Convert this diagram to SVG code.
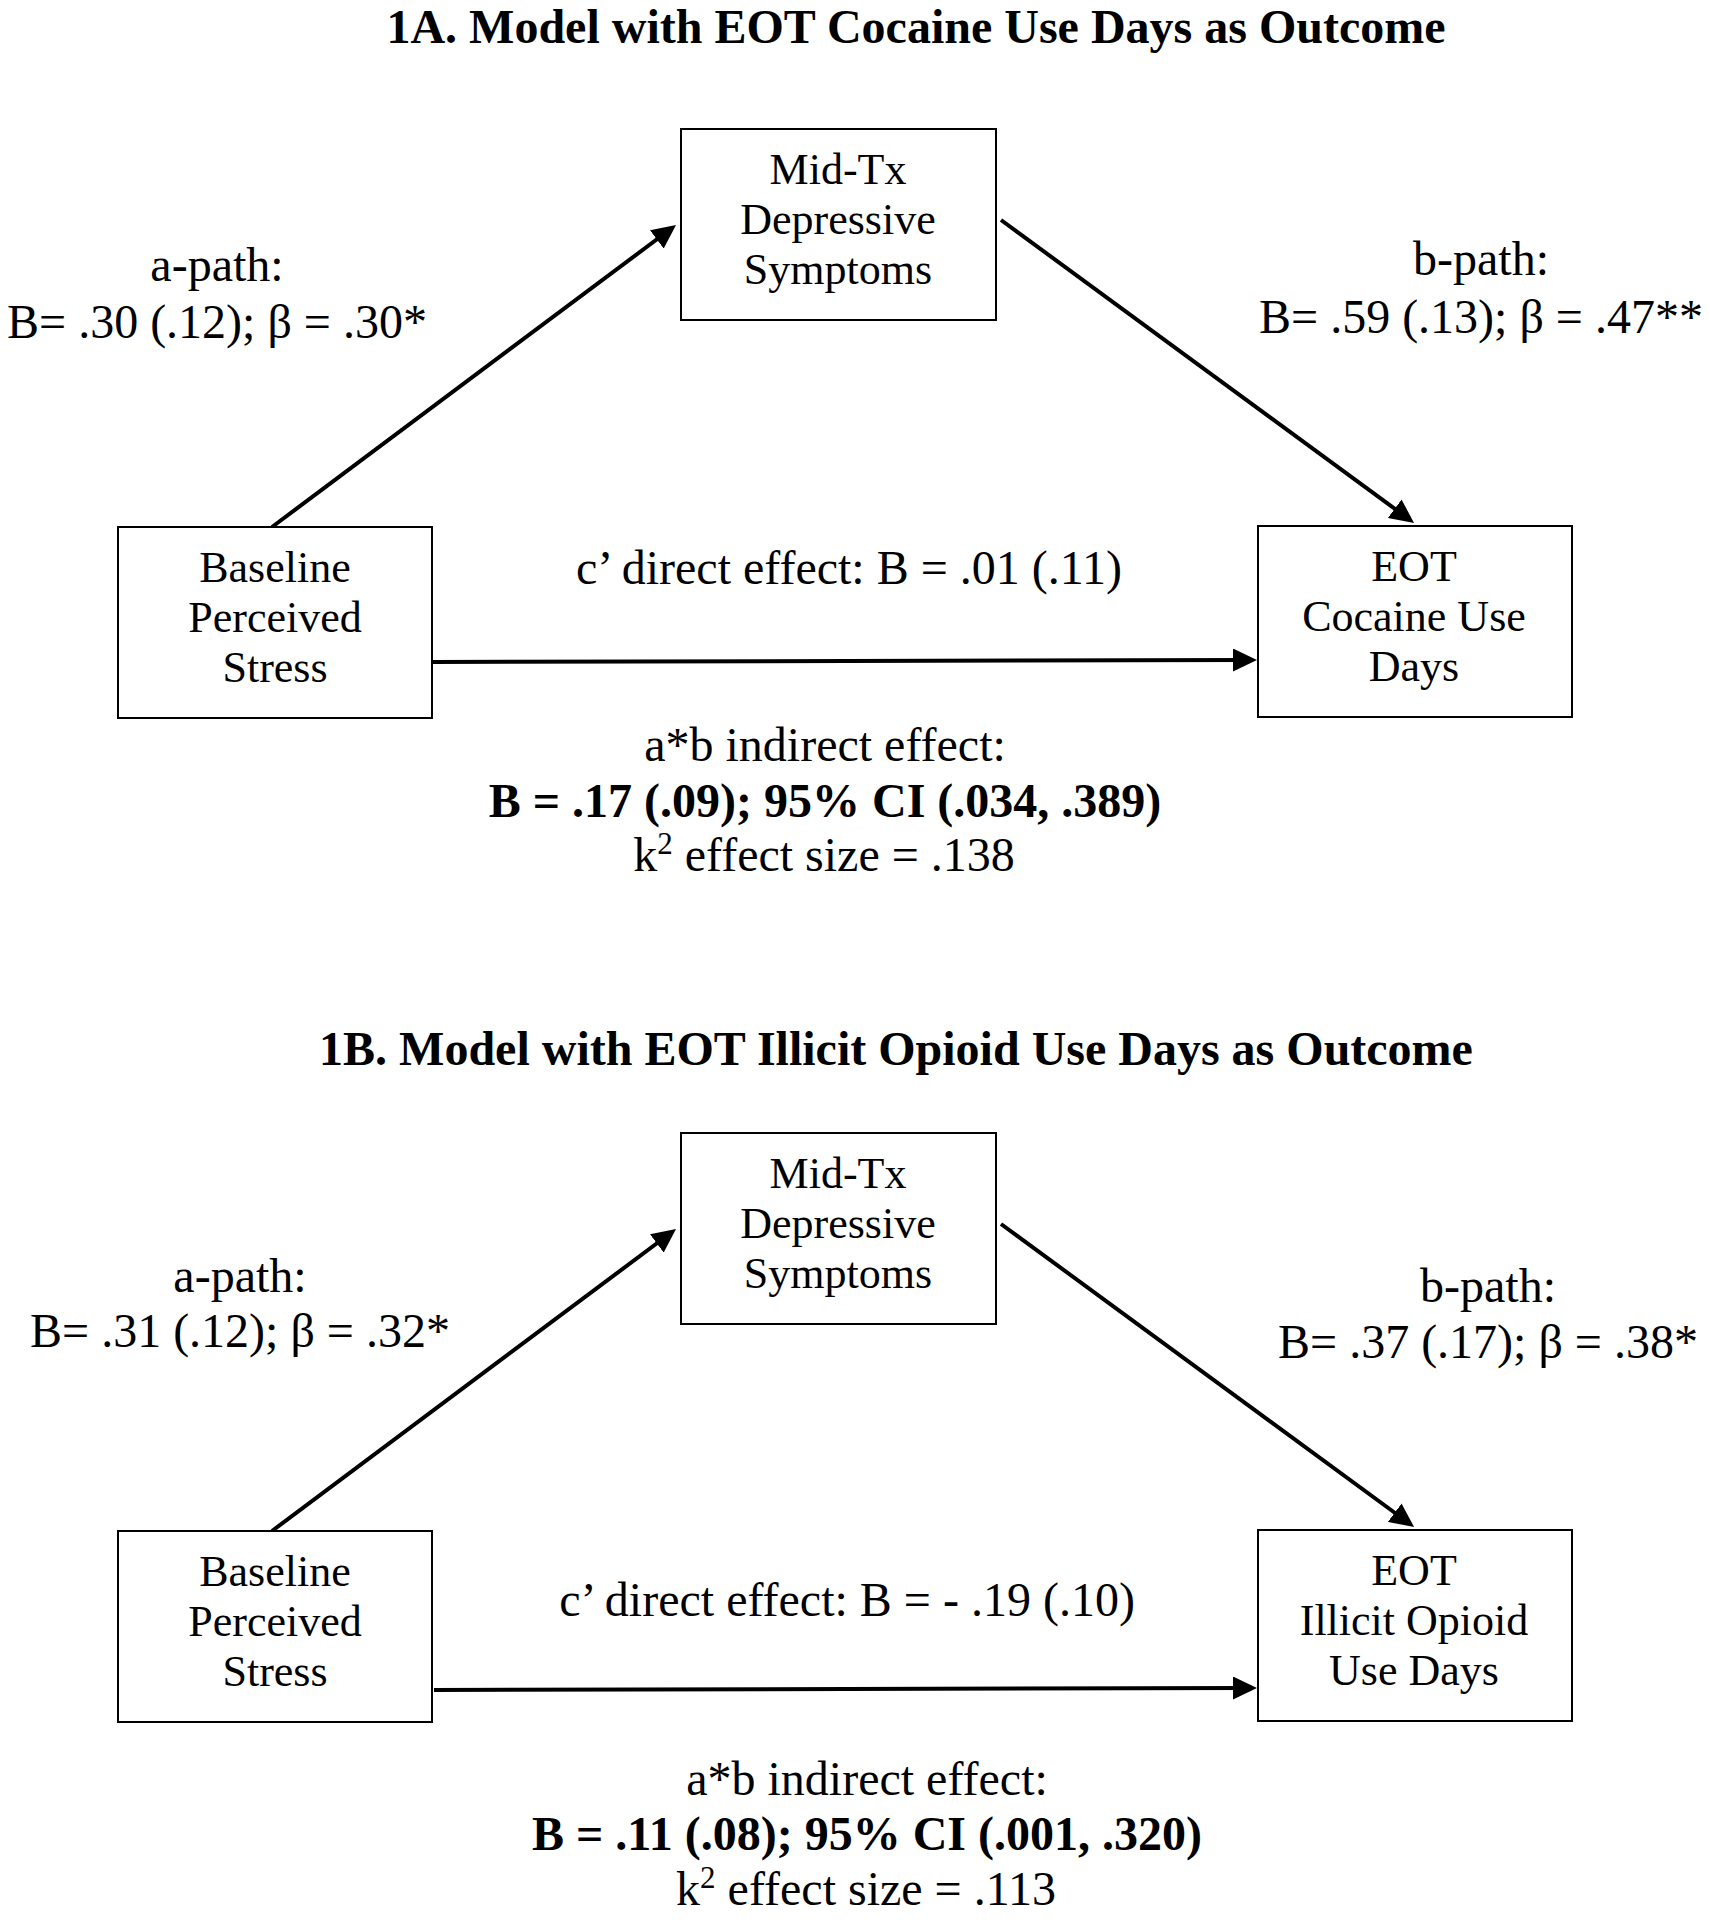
<svg xmlns="http://www.w3.org/2000/svg" width="1710" height="1920" viewBox="0 0 1710 1920">
<style>
text{font-family:"Liberation Serif","Times New Roman",serif;fill:#000;text-anchor:middle}
.title{font-size:48px;font-weight:bold}
.box{fill:#fff;stroke:#000;stroke-width:2}
.bt{font-size:44px}
.lb{font-size:48px}
.bold{font-weight:bold}
.arr{stroke:#000;stroke-width:4;fill:none;marker-end:url(#ah)}
.sup{font-size:31px}
</style>
<defs>
<marker id="ah" markerUnits="userSpaceOnUse" viewBox="0 0 24 23" refX="14" refY="11.5" markerWidth="24" markerHeight="23" orient="auto">
<path d="M0,0 L24,11.5 L0,23 Z" fill="#000"/>
</marker>
</defs>
<rect width="1710" height="1920" fill="#fff"/>

<!-- Panel 1A -->
<text class="title" x="916" y="43">1A. Model with EOT Cocaine Use Days as Outcome</text>

<g id="connectors-1A">
<line class="arr" x1="272" y1="527" x2="668" y2="231"/>
<line class="arr" x1="1001" y1="220" x2="1406" y2="517"/>
<line class="arr" x1="433" y1="662" x2="1247" y2="660"/>
</g>

<g id="node-1A-mid">
<rect class="box" x="681" y="129" width="315" height="191"/>
<text class="bt" x="838" y="184">Mid-Tx</text>
<text class="bt" x="838" y="234">Depressive</text>
<text class="bt" x="838" y="284">Symptoms</text>
</g>
<g id="node-1A-base">
<rect class="box" x="118" y="527" width="314" height="191"/>
<text class="bt" x="275" y="582">Baseline</text>
<text class="bt" x="275" y="632">Perceived</text>
<text class="bt" x="275" y="682">Stress</text>
</g>
<g id="node-1A-eot">
<rect class="box" x="1258" y="526" width="314" height="191"/>
<text class="bt" x="1414" y="581">EOT</text>
<text class="bt" x="1414" y="631">Cocaine Use</text>
<text class="bt" x="1414" y="681">Days</text>
</g>

<g id="labels-1A">
<text class="lb" x="217" y="281">a-path:</text>
<text class="lb" x="217" y="338">B= .30 (.12); β = .30*</text>
<text class="lb" x="1481" y="275">b-path:</text>
<text class="lb" x="1481" y="333">B= .59 (.13); β = .47**</text>
<text class="lb" x="849" y="584">c’ direct effect: B = .01 (.11)</text>
<text class="lb" x="825" y="761">a*b indirect effect:</text>
<text class="lb bold" x="825" y="817">B = .17 (.09); 95% CI (.034, .389)</text>
<text class="lb" x="824" y="871">k<tspan class="sup" dy="-17">2</tspan><tspan dy="17"> effect size = .138</tspan></text>
</g>

<!-- Panel 1B -->
<text class="title" x="896" y="1065">1B. Model with EOT Illicit Opioid Use Days as Outcome</text>

<g id="connectors-1B">
<line class="arr" x1="272" y1="1531" x2="668" y2="1235"/>
<line class="arr" x1="1001" y1="1224" x2="1406" y2="1521"/>
<line class="arr" x1="434" y1="1690" x2="1247" y2="1688"/>
</g>

<g id="node-1B-mid">
<rect class="box" x="681" y="1133" width="315" height="191"/>
<text class="bt" x="838" y="1188">Mid-Tx</text>
<text class="bt" x="838" y="1238">Depressive</text>
<text class="bt" x="838" y="1288">Symptoms</text>
</g>
<g id="node-1B-base">
<rect class="box" x="118" y="1531" width="314" height="191"/>
<text class="bt" x="275" y="1586">Baseline</text>
<text class="bt" x="275" y="1636">Perceived</text>
<text class="bt" x="275" y="1686">Stress</text>
</g>
<g id="node-1B-eot">
<rect class="box" x="1258" y="1530" width="314" height="191"/>
<text class="bt" x="1414" y="1585">EOT</text>
<text class="bt" x="1414" y="1635">Illicit Opioid</text>
<text class="bt" x="1414" y="1685">Use Days</text>
</g>

<g id="labels-1B">
<text class="lb" x="240" y="1292">a-path:</text>
<text class="lb" x="240" y="1347">B= .31 (.12); β = .32*</text>
<text class="lb" x="1488" y="1302">b-path:</text>
<text class="lb" x="1488" y="1358">B= .37 (.17); β = .38*</text>
<text class="lb" x="847" y="1616">c’ direct effect: B = - .19 (.10)</text>
<text class="lb" x="867" y="1795">a*b indirect effect:</text>
<text class="lb bold" x="867" y="1850">B = .11 (.08); 95% CI (.001, .320)</text>
<text class="lb" x="866" y="1905">k<tspan class="sup" dy="-17">2</tspan><tspan dy="17"> effect size = .113</tspan></text>
</g>
</svg>
